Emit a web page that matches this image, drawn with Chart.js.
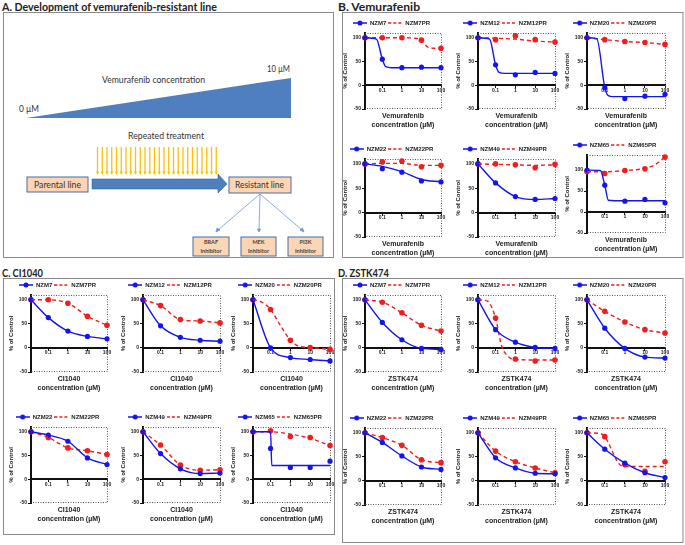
<!DOCTYPE html>
<html>
<head>
<meta charset="utf-8">
<script src="https://cdn.jsdelivr.net/npm/chart.js@4.4.1/dist/chart.umd.min.js"></script>
<style>
  body { margin: 0; background: #fff; }
  #page { position: relative; width: 685px; height: 545px; overflow: hidden; background: #fff; }
  #page svg { position: absolute; left: 0; top: 0; }
  #page canvas { position: absolute; }
</style>
</head>
<body>
<div id="page">
<svg id="sketch" width="685" height="545" font-family="Lato, 'Open Sans', sans-serif">
  <g font-weight="bold" font-size="12" fill="#222" dominant-baseline="central">
    <text x="2" y="6" textLength="215" lengthAdjust="spacingAndGlyphs">A. Development of vemurafenib-resistant line</text>
    <text x="338" y="6" textLength="82" lengthAdjust="spacingAndGlyphs">B. Vemurafenib</text>
    <text x="2" y="272" textLength="41" lengthAdjust="spacingAndGlyphs">C. CI1040</text>
    <text x="338" y="272" textLength="51" lengthAdjust="spacingAndGlyphs">D. ZSTK474</text>
  </g>
  <g fill="none" stroke="#8a8a8a" stroke-width="1">
    <rect x="3.5" y="12.5" width="330" height="245"/>
    <rect x="342.5" y="12.5" width="340.5" height="245"/>
    <rect x="3.5" y="278.5" width="331" height="256"/>
    <rect x="342.5" y="278.5" width="340.5" height="264"/>
  </g>
  <!-- panel A schematic -->
  <polygon points="26,118 291,118 291,78" fill="#4f7fbe"/>
  <g font-size="8.5" fill="#333" dominant-baseline="central">
    <text x="267" y="69" textLength="23" lengthAdjust="spacingAndGlyphs">10 µM</text>
    <text x="102" y="80" textLength="103" lengthAdjust="spacingAndGlyphs">Vemurafenib concentration</text>
    <text x="19" y="109" textLength="20" lengthAdjust="spacingAndGlyphs">0 µM</text>
    <text x="128" y="136" textLength="76" lengthAdjust="spacingAndGlyphs">Repeated treatment</text>
  </g>
  <g id="stripes" stroke="#ffc000" fill="#ffc000" stroke-width="1.3"></g>
  <polygon points="92,179 218,179 218,174 227,184 218,193 218,189 92,189" fill="#4f7fbe" stroke="#3b6597" stroke-width="0.6"/>
  <g fill="#fbd5b5" stroke="#4a6e9a" stroke-width="1">
    <rect x="27" y="177" width="61" height="15"/>
    <rect x="229" y="177" width="62" height="16"/>
    <rect x="193" y="237" width="36" height="19"/>
    <rect x="241" y="237" width="35" height="19"/>
    <rect x="288" y="237" width="35" height="19"/>
  </g>
  <g font-size="8.5" fill="#333" dominant-baseline="central">
    <text x="34" y="185" textLength="47" lengthAdjust="spacingAndGlyphs">Parental line</text>
    <text x="235" y="185" textLength="49" lengthAdjust="spacingAndGlyphs">Resistant line</text>
  </g>
  <g stroke="#6f97d4" stroke-width="0.8" fill="#6f97d4">
    <line x1="260" y1="194" x2="218" y2="230"/>
    <line x1="260" y1="194" x2="259" y2="230"/>
    <line x1="260" y1="194" x2="302" y2="230"/>
    <polygon points="216,232 217,228 220,230"/>
    <polygon points="259,232 257.5,229 260.5,229"/>
    <polygon points="304,232 300,230 302.5,228"/>
  </g>
  <g font-size="5.5" font-weight="bold" fill="#444" text-anchor="middle" dominant-baseline="central">
    <text x="211" y="242">BRAF</text><text x="211" y="251">Inhibitor</text>
    <text x="258.5" y="242">MEK</text><text x="258.5" y="251">Inhibitor</text>
    <text x="305.5" y="242">PI3K</text><text x="305.5" y="251">Inhibitor</text>
  </g>
</svg>
</div>
<script>
// values (% of control); dose 0 is drawn at the left edge
const cellLines = ['NZM7', 'NZM12', 'NZM20', 'NZM22', 'NZM49', 'NZM65'];
const doses = [0, 0.1, 1, 10, 100];
const doseTicks = [0.1, 1, 10, 100];
const percentTicks = [-50, 0, 50, 100];

const vemParental = [[100, 55, 37, 38, 37], [100, 43, 22, 27, 25], [100, -5, -28, -23, -19],
                     [100, 90, 83, 65, 63], [100, 61, 33, 27, 29], [100, 64, 26, 30, 22]];
const vemResistant = [[100, 100, 100, 95, 78], [100, 96, 104, 96, 91], [100, 96, 92, 90, 86],
                      [100, 104, 106, 94, 97], [100, 100, 98, 92, 99], [96, 92, 99, 103, 131]];
const ciParental = [[100, 63, 35, 24, 19], [100, 46, 22, 16, 14], [100, 0, -20, -24, -27],
                    [100, 93, 80, 45, 31], [100, 54, 22, 12, 13], [100, 65, 25, 25, 38]];
const ciResistant = [[100, 100, 93, 66, 47], [100, 88, 59, 56, 52], [100, 80, 16, 1, -3],
                     [100, 88, 66, 60, 52], [100, 72, 30, 19, 20], [100, 102, 90, 88, 71]];
const zsParental = [[100, 53, 17, -1, -3], [100, 38, 12, 1, -1], [100, 41, -1, -19, -21],
                    [100, 80, 52, 29, 24], [100, 48, 27, 16, 15], [100, 66, 37, 17, 7]];
const zsResistant = [[100, 95, 73, 47, 35], [100, 62, -23, -27, -25], [100, 76, 54, 38, 31],
                     [100, 90, 74, 44, 38], [100, 62, 40, 27, 17], [100, 92, 34, 20, 40]];

// extra [dose, value] points of the fitted curves
const vemParentalFit = [[[0.05, 97], [0.15, 39], [0.3, 37], [1, 37], [10, 37]],
                        [[0.05, 97], [0.15, 27], [0.3, 25], [1, 25], [10, 25], [100, 25]],
                        [[0.04, 98], [0.15, -22], [0.25, -24], [1, -24], [10, -24], [100, -24]],
                        [[0.1, 95], [1, 84], [10, 68], [100, 63]], [],
                        [[0.06, 99], [0.15, 28], [0.3, 27], [1, 27], [10, 27], [100, 27]]];
const vemResistantFit = [[[5, 99], [20, 81], [40, 78]], [[0.1, 99], [1, 97], [10, 93], [100, 91]], [],
                         [[0.1, 101], [1, 101], [10, 97], [100, 97]], [[0.1, 99], [1, 98], [10, 97], [100, 98]],
                         [[0.1, 96], [1, 99], [10, 104], [30, 112]]];
const ciParentalFit = [[], [], [], [], [], [[0.1, 100], [0.115, 29], [1, 29], [10, 29], [100, 29]]];
const ciResistantFit = [[], [], [[0.03, 97], [0.3, 48], [3, 3]], [], [], [[0.1, 100], [1, 95], [10, 86]]];
const zsParentalFit = [[], [], [], [], [], []];
const zsResistantFit = [[], [[0.04, 97], [0.2, 5], [0.5, -20], [1, -24], [10, -25], [100, -25]], [], [], [],
                        [[0.05, 99], [0.5, 36], [1, 30], [10, 30], [100, 30]]];

const X_MIN = 0.013;
const BLUE = '#1414f0', RED = '#f01e1e', INK = '#222';
const FONT = 'Liberation Sans, Arial, sans-serif';
const Y_AXIS_W = 23, LEGEND_H = 15, TITLE_H = 21, PAD_R = 17;

const page = document.getElementById('page');

// yellow treatment arrows in panel A
const stripes = document.getElementById('stripes');
let sv = '';
for (let i = 0; i < 26; i++) {
  const x = 97.5 + i * 4.75;
  sv += `<line x1="${x}" y1="147" x2="${x}" y2="172"/><polygon points="${x - 1.6},171.5 ${x + 1.6},171.5 ${x},175" stroke="none"/>`;
}
stripes.innerHTML = sv;

function legendIcon(color, dashed) {
  const c = document.createElement('canvas');
  c.width = 14; c.height = 6;
  const g = c.getContext('2d');
  g.strokeStyle = color; g.lineWidth = 1.5;
  if (dashed) g.setLineDash([3, 2]);
  g.beginPath(); g.moveTo(0, 3); g.lineTo(14, 3); g.stroke();
  if (!dashed) {
    g.fillStyle = color;
    g.beginPath(); g.arc(7, 3, 2.5, 0, Math.PI * 2); g.fill();
  }
  return c;
}
const blueIcon = legendIcon(BLUE, false);
const redIcon = legendIcon(RED, true);

const plotX = d => (d === 0 ? X_MIN : d);
const points = vals => doses.map((d, i) => ({ x: plotX(d), y: vals[i] }));
function fitLine(vals, knots) {
  const m = new Map();
  doses.forEach((d, i) => m.set(d, vals[i]));
  knots.forEach(([d, v]) => m.set(d, v));
  return [...m.entries()].sort((a, b) => a[0] - b[0]).map(([d, v]) => ({ x: plotX(d), y: v }));
}

const dottedFrame = {
  id: 'dottedFrame',
  beforeDatasetsDraw(chart) {
    const { ctx, chartArea: a } = chart;
    ctx.save();
    ctx.strokeStyle = '#555';
    ctx.lineWidth = 1;
    ctx.setLineDash([1, 1.5]);
    ctx.beginPath();
    ctx.moveTo(a.left, a.top + 0.5);
    ctx.lineTo(a.right + 0.5, a.top + 0.5);
    ctx.lineTo(a.right + 0.5, a.bottom - 0.5);
    ctx.lineTo(a.left, a.bottom - 0.5);
    ctx.stroke();
    ctx.restore();
  }
};

function makeChart(o) {
  const cv = document.createElement('canvas');
  const top = Math.round(o.top);
  const plotH = Math.round(o.bottom - o.top);
  cv.width = Y_AXIS_W + o.width + PAD_R;
  cv.height = LEGEND_H + plotH + TITLE_H;
  cv.style.left = (o.left - Y_AXIS_W) + 'px';
  cv.style.top = (top - LEGEND_H) + 'px';
  page.appendChild(cv);

  new Chart(cv, {
    type: 'line',
    data: {
      datasets: [
        { label: o.cell, data: fitLine(o.par, o.parFit), borderColor: BLUE, borderWidth: 1.4,
          pointRadius: 0, pointStyle: blueIcon, cubicInterpolationMode: 'monotone', clip: false },
        { label: o.cell + 'PR', data: fitLine(o.res, o.resFit), borderColor: RED, borderWidth: 1.4,
          borderDash: [4, 3], pointRadius: 0, pointStyle: redIcon, cubicInterpolationMode: 'monotone', clip: false },
        { label: 'p', data: points(o.par), showLine: false, pointRadius: 2.6,
          pointBackgroundColor: BLUE, pointBorderWidth: 0, clip: false },
        { label: 'r', data: points(o.res), showLine: false, pointRadius: 2.8,
          pointBackgroundColor: RED, pointBorderWidth: 0, clip: false }
      ].map(d => Object.assign(d, { xAxisID: 'x', yAxisID: 'y' }))
    },
    options: {
      responsive: false,
      animation: false,
      layout: { padding: { left: 0, right: PAD_R, top: 0, bottom: 0 } },
      plugins: {
        legend: {
          position: 'top',
          maxHeight: LEGEND_H,
          labels: {
            usePointStyle: true, pointStyleWidth: 14, padding: 2, color: INK,
            font: { family: FONT, size: 6, weight: 'bold' },
            filter: it => it.datasetIndex < 2
          }
        },
        tooltip: { enabled: false }
      },
      scales: {
        x: {
          type: 'logarithmic', min: X_MIN, max: 100, position: { y: 0 },
          afterBuildTicks: s => { s.ticks = doseTicks.map(v => ({ value: v })); },
          ticks: { callback: v => String(v), color: INK, padding: 0, maxRotation: 0, autoSkip: false,
                   font: { family: FONT, size: 5, weight: 'bold' } },
          grid: { drawOnChartArea: false, tickLength: 2, color: '#111' },
          border: { color: '#111', width: 2 }
        },
        xt: {
          type: 'linear', position: 'bottom', min: 0, max: 1,
          afterFit: s => { s.height = TITLE_H; },
          ticks: { display: false }, grid: { display: false }, border: { display: false },
          title: { display: true, text: [o.drug, 'concentration (µM)'], color: INK, padding: 0,
                   font: { family: FONT, size: 7, weight: 'bold', lineHeight: 1.3 } }
        },
        y: {
          min: -50, max: o.yMax, position: 'left',
          afterFit: s => { s.width = Y_AXIS_W; },
          afterBuildTicks: s => { s.ticks = percentTicks.map(v => ({ value: v })); },
          ticks: { color: INK, padding: 1, font: { family: FONT, size: 5, weight: 'bold' } },
          grid: { drawOnChartArea: false, tickLength: 3, color: '#111' },
          border: { color: '#111', width: 2 },
          title: { display: true, text: '% of Control', color: INK, padding: 0,
                   font: { family: FONT, size: 6, weight: 'bold' } }
        }
      }
    },
    plugins: [dottedFrame]
  });
}

function drawPanel(drug, par, res, parFit, resFit, lefts, widths, rows, special) {
  cellLines.forEach((cell, i) => {
    const col = i % 3, row = Math.floor(i / 3);
    const geo = Object.assign({ top: rows[row][0], bottom: rows[row][1], yMax: 110 }, special[i] || {});
    makeChart({
      cell, drug, par: par[i], res: res[i], parFit: parFit[i], resFit: resFit[i],
      left: lefts[col], width: widths[col], top: geo.top, bottom: geo.bottom, yMax: geo.yMax
    });
  });
}

const rightLefts = [365, 478, 587], rightWidths = [76, 77, 78];
const leftLefts = [31, 143, 253], leftWidths = [76, 77, 77];

drawPanel('Vemurafenib', vemParental, vemResistant, vemParentalFit, vemResistantFit,
  rightLefts, rightWidths, [[33, 109], [158.5, 236]], { 5: { top: 155, bottom: 232.5, yMax: 136 } });
drawPanel('CI1040', ciParental, ciResistant, ciParentalFit, ciResistantFit,
  leftLefts, leftWidths, [[295, 371.5], [427, 502.7]], {});
drawPanel('ZSTK474', zsParental, zsResistant, zsParentalFit, zsResistantFit,
  rightLefts, rightWidths, [[295, 371.5], [428, 504.7]], {});
</script>
</body>
</html>
